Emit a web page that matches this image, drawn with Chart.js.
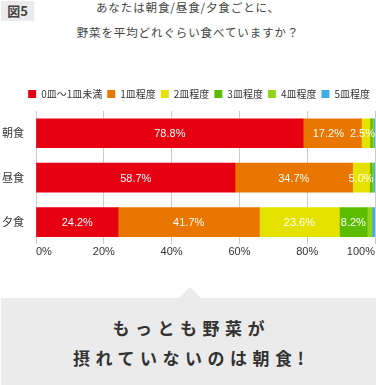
<!DOCTYPE html>
<html>
<head>
<meta charset="utf-8">
<script src="https://cdn.jsdelivr.net/npm/chart.js@4.4.1/dist/chart.umd.min.js"></script>
<style>
  body { margin: 0; background: #fff; font-family: "Noto Sans CJK JP", sans-serif; }
  .wrap { position: relative; width: 376px; height: 385px; overflow: hidden; }
  .fig { position: absolute; left: 1px; top: 1px; width: 33px; height: 20px; background: #ebebeb;
         font-size: 13px; font-weight: bold; color: #444; line-height: 20px; text-align: center; }
  .title { position: absolute; left: 0; width: 376px; text-align: center; font-size: 11.5px; color: #444; letter-spacing: 0.9px; }
  .chart-container { position: absolute; left: 0; top: 84px; width: 376px; height: 179px; }
  .callout { position: absolute; left: 1px; top: 298px; width: 375px; height: 87px; background: #ebebeb; }
  .callout::before { content: ""; position: absolute; left: 178px; top: -11px; border-left: 11px solid transparent;
                     border-right: 11px solid transparent; border-bottom: 11px solid #ebebeb; }
  .callout p { margin: 0; position: absolute; left: 0; width: 100%; text-align: center; font-size: 17px;
               font-weight: bold; color: #333; letter-spacing: 5.5px; text-indent: 5.5px; }
</style>
</head>
<body>
<div class="wrap">
  <div class="fig">図5</div>
  <div class="title" style="top:-1px">あなたは朝食/昼食/夕食ごとに、</div>
  <div class="title" style="top:24px">野菜を平均どれぐらい食べていますか？</div>
  <div class="chart-container"><canvas id="myChart"></canvas></div>
  <div class="callout">
    <p style="top:17px">もっとも野菜が</p>
    <p style="top:47px">摂れていないのは朝食!</p>
  </div>
</div>
<script>
// ----------------------------------------------------------
// data
const meals = ["朝食", "昼食", "夕食"];
const seriesNames = ["0皿～1皿未満", "1皿程度", "2皿程度", "3皿程度", "4皿程度", "5皿程度"];
const lessThanOne = [78.8, 58.7, 24.2];
const onePlate = [17.2, 34.7, 41.7];
const twoPlates = [2.5, 5.0, 23.6];
const threePlates = [0.7, 0.7, 8.2];
const fourPlates = [0.4, 0.4, 1.4];
const fivePlates = [0.4, 0.5, 0.9];
const xTicks = [0, 20, 40, 60, 80, 100];
// ----------------------------------------------------------
const seriesValues = [lessThanOne, onePlate, twoPlates, threePlates, fourPlates, fivePlates];
const seriesColors = ["#e60012", "#e87600", "#e6e200", "#5cbd00", "#8fd61a", "#3eaee6"];
const numFont = "'Liberation Sans', Arial, 'Noto Sans CJK JP', sans-serif";

// labels inside the bars (pushed left when they would collide)
const barLabels = {
  id: "barLabels",
  afterDatasetsDraw(chart) {
    const ctx = chart.ctx;
    ctx.save();
    ctx.fillStyle = "#fff";
    ctx.font = "11px " + numFont;
    ctx.textAlign = "center";
    ctx.textBaseline = "middle";
    chart.data.labels.forEach((meal, j) => {
      let limit = chart.chartArea.right;
      for (let i = chart.data.datasets.length - 1; i >= 0; i--) {
        const v = chart.data.datasets[i].data[j];
        if (v < 2) continue;
        const bar = chart.getDatasetMeta(i).data[j];
        const txt = v.toFixed(1) + "%";
        const w = ctx.measureText(txt).width;
        let x = (bar.x + bar.base) / 2;
        if (x + w / 2 > limit) x = limit - w / 2;
        ctx.fillText(txt, x, bar.y + 1);
        limit = x - w / 2 - 6;
      }
    });
    ctx.restore();
  },
};

// a bit more room under the legend
const legendMargin = {
  id: "legendMargin",
  beforeInit(chart) {
    const fit = chart.legend.fit;
    chart.legend.fit = function () {
      fit.bind(chart.legend)();
      this.height += 2;
    };
  },
};

function createChart() {
  const ctx = document.querySelector("#myChart").getContext("2d");
  const datasets = seriesNames.map((name, i) => ({
    label: name,
    data: seriesValues[i],
    backgroundColor: seriesColors[i],
    borderWidth: 0,
    barThickness: 29,
  }));
  const theChart = new Chart(ctx, {
    type: "bar",
    data: { labels: meals, datasets: datasets },
    options: {
      indexAxis: "y",
      responsive: true,
      maintainAspectRatio: false,
      animation: false,
      layout: { padding: { left: 2, right: 1, top: 0, bottom: 0 } },
      plugins: {
        tooltip: { enabled: false },
        legend: {
          align: "end",
          labels: {
            boxWidth: 8,
            boxHeight: 8,
            padding: 5,
            color: "#333",
            font: { size: 10, family: "'Noto Sans CJK JP', sans-serif" },
          },
        },
      },
      scales: {
        x: {
          stacked: true,
          min: 0,
          max: 100,
          afterBuildTicks(axis) {
            axis.ticks = xTicks.map((v) => ({ value: v }));
          },
          grid: { color: "#cccccc", tickLength: 0, drawTicks: false },
          border: { display: false },
          ticks: {
            align: "inner",
            padding: 1,
            color: "#333",
            font: { size: 11, family: numFont },
            callback: (v) => v + "%",
          },
        },
        y: {
          stacked: true,
          afterFit(scale) {
            scale.width = 34;
          },
          grid: { display: false, drawTicks: false },
          border: { display: false },
          ticks: {
            crossAlign: "far",
            padding: 12,
            color: "#333",
            font: { size: 11, family: "'Noto Sans CJK JP', sans-serif" },
          },
        },
      },
    },
    plugins: [barLabels, legendMargin],
  });
  return theChart;
}

window.addEventListener("load", createChart);
</script>
</body>
</html>
